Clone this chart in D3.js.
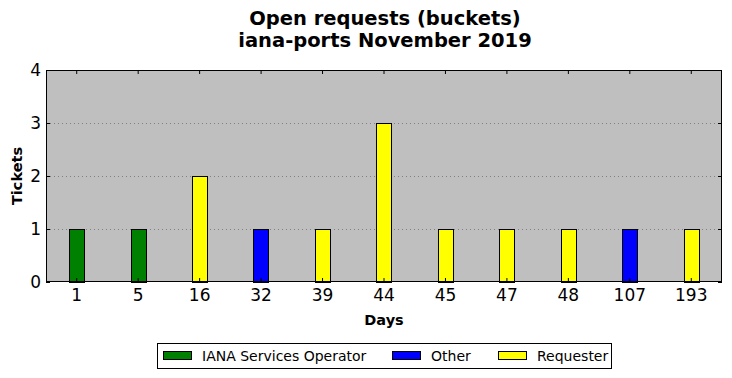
<!DOCTYPE html>
<html>
<head>
<meta charset="utf-8">
<script src="https://cdn.jsdelivr.net/npm/d3@7"></script>
<style>
    body { margin: 0; background: #fff; }
    svg { display: block; font-family: "DejaVu Sans", sans-serif; }
</style>
</head>
<body>
<div id="chart"></div>
<script>
'use strict';

// Chart data.
var categories = ['1', '5', '16', '32', '39', '44', '45', '47', '48', '107', '193'];
var seriesNames = ['IANA Services Operator', 'Other', 'Requester'];
var seriesColors = ['#008000', '#0000ff', '#ffff00'];
var ianaValues = [1, 1, 0, 0, 0, 0, 0, 0, 0, 0, 0];
var otherValues = [0, 0, 0, 1, 0, 0, 0, 0, 0, 1, 0];
var requesterValues = [0, 0, 2, 0, 1, 3, 1, 1, 1, 0, 1];
var yTicks = [0, 1, 2, 3, 4];

var width = 732,
    height = 378,
    margin = {top: 70, right: 10, bottom: 96, left: 46},
    innerW = width - margin.left - margin.right,
    innerH = height - margin.top - margin.bottom,
    tickLen = 4;

var rows = categories.map(function (c, i) {
    return {cat: c, s0: ianaValues[i], s1: otherValues[i], s2: requesterValues[i]};
});
var stacked = d3.stack().keys(['s0', 's1', 's2'])(rows);

var svg = d3.select('#chart').append('svg')
    .attr('width', width)
    .attr('height', height);

// Title, two lines.
svg.append('text')
    .attr('x', 385).attr('y', 25)
    .attr('text-anchor', 'middle')
    .style('font-size', '19.5px').style('font-weight', 'bold')
    .text('Open requests (buckets)');
svg.append('text')
    .attr('x', 385).attr('y', 47)
    .attr('text-anchor', 'middle')
    .style('font-size', '19.5px').style('font-weight', 'bold')
    .text('iana-ports November 2019');

var g = svg.append('g')
    .attr('transform', 'translate(' + margin.left + ',' + margin.top + ')');

var x = d3.scaleBand()
    .domain(categories)
    .range([0, innerW])
    .padding(0);

var y = d3.scaleLinear()
    .domain([0, 4])
    .range([innerH, 0]);

var barW = x.bandwidth() * 0.25;

// Background.
g.append('rect')
    .attr('width', innerW)
    .attr('height', innerH)
    .attr('fill', '#bfbfbf');

// Dotted grid.
g.append('g')
    .selectAll('line')
    .data(yTicks.filter(function (d) { return d > 0 && d < 4; }))
    .enter().append('line')
    .attr('x1', 0).attr('x2', innerW)
    .attr('y1', function (d) { return y(d) + 0.5; })
    .attr('y2', function (d) { return y(d) + 0.5; })
    .attr('stroke', '#808080')
    .attr('stroke-width', 1)
    .attr('stroke-dasharray', '1,3');

// Bars.
g.selectAll('.series')
    .data(stacked)
    .enter().append('g')
    .attr('class', 'series')
    .attr('fill', function (d, i) { return seriesColors[i]; })
    .selectAll('rect')
    .data(function (d) { return d.filter(function (p) { return p[1] - p[0] > 0; }); })
    .enter().append('rect')
    .attr('x', function (d) { return Math.round(x(d.data.cat) + x.bandwidth() / 2 - barW / 2) + 0.5; })
    .attr('y', function (d) { return Math.round(y(d[1])) + 0.5; })
    .attr('width', Math.round(barW))
    .attr('height', function (d) { return Math.round(y(d[0]) - y(d[1])); })
    .attr('stroke', '#000')
    .attr('stroke-width', 1);

// Axes: bottom with labels, top/left/right ticks pointing inward.
var xAxis = g.append('g')
    .attr('transform', 'translate(0,' + innerH + ')')
    .call(d3.axisBottom(x).tickSize(-tickLen).tickPadding(7));
xAxis.selectAll('text').style('font-size', '17px').attr('fill', '#000').attr('font-family', '"DejaVu Sans", sans-serif');

g.append('g')
    .call(d3.axisTop(x).tickSize(-tickLen).tickFormat(''));

var yAxis = g.append('g')
    .call(d3.axisLeft(y).tickValues(yTicks).tickSize(-tickLen).tickPadding(5).tickFormat(d3.format('d')));
yAxis.selectAll('text').style('font-size', '17px').attr('fill', '#000').attr('font-family', '"DejaVu Sans", sans-serif');

g.append('g')
    .attr('transform', 'translate(' + innerW + ',0)')
    .call(d3.axisRight(y).tickValues(yTicks).tickSize(-tickLen).tickFormat(''));

g.selectAll('.domain').remove();
g.selectAll('.tick line').attr('stroke', '#000');

// Frame.
g.append('rect')
    .attr('x', 0.5).attr('y', 0.5)
    .attr('width', innerW - 1).attr('height', innerH - 1)
    .attr('fill', 'none')
    .attr('stroke', '#000')
    .attr('stroke-width', 1);

// Axis titles.
svg.append('text')
    .attr('x', margin.left + innerW / 2).attr('y', 325)
    .attr('text-anchor', 'middle')
    .style('font-size', '14.5px').style('font-weight', 'bold')
    .text('Days');
svg.append('text')
    .attr('transform', 'translate(22,' + (margin.top + innerH / 2) + ') rotate(-90)')
    .attr('text-anchor', 'middle')
    .style('font-size', '14.5px').style('font-weight', 'bold')
    .text('Tickets');

// Legend.
var legend = svg.append('g').attr('transform', 'translate(157,343)');
legend.append('rect')
    .attr('x', 0.5).attr('y', 0.5)
    .attr('width', 454).attr('height', 25)
    .attr('fill', '#fff')
    .attr('stroke', '#000');
var legendX = [6, 235, 341];
seriesNames.forEach(function (name, i) {
    legend.append('rect')
        .attr('x', legendX[i] + 0.5).attr('y', 8.5)
        .attr('width', 28).attr('height', 8)
        .attr('fill', seriesColors[i])
        .attr('stroke', '#000');
    legend.append('text')
        .attr('x', legendX[i] + 39).attr('y', 18)
        .style('font-size', '14px')
        .text(name);
});
</script>
</body>
</html>
